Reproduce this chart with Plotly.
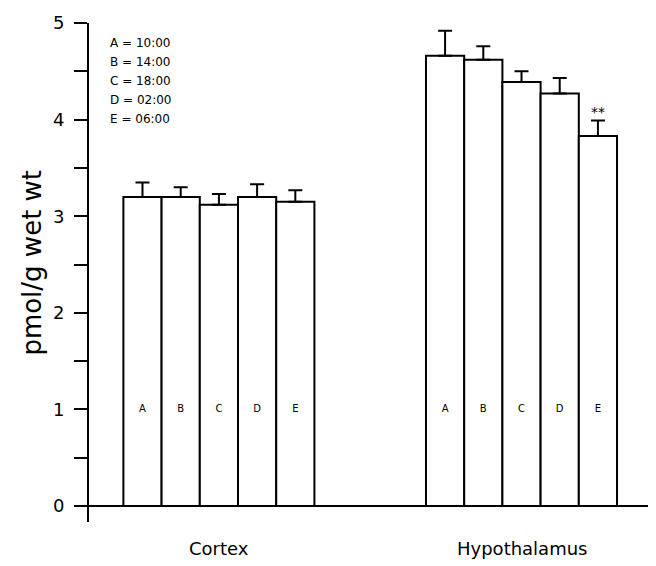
import plotly.graph_objects as go

# ---- data ----
groups = ["Cortex", "Hypothalamus"]
letters = ["A", "B", "C", "D", "E"]
times = ["10:00", "14:00", "18:00", "02:00", "06:00"]
cortex_vals = [3.20, 3.20, 3.12, 3.20, 3.15]
cortex_err = [0.15, 0.10, 0.11, 0.13, 0.12]
hypo_vals = [4.66, 4.62, 4.39, 4.27, 3.83]
hypo_err = [0.26, 0.14, 0.11, 0.16, 0.16]
signif = ["", "", "", "", "**"]
ytick_vals = [0, 0.5, 1, 1.5, 2, 2.5, 3, 3.5, 4, 4.5, 5]
ytick_text = ["0", "", "1", "", "2", "", "3", "", "4", "", "5"]

# ---- layout helpers ----
group_centers = [1.95, 9.87]
offsets = [-2, -1, 0, 1, 2]
FONT = "DejaVu Sans"

fig = go.Figure()
all_vals = [cortex_vals, hypo_vals]
all_errs = [cortex_err, hypo_err]
for gi, g in enumerate(groups):
    xs = [group_centers[gi] + o for o in offsets]
    fig.add_trace(go.Bar(
        x=xs, y=all_vals[gi], width=1.0,
        marker=dict(color="white", line=dict(color="black", width=2)),
        error_y=dict(type="data", symmetric=False, array=all_errs[gi],
                     arrayminus=[0] * len(xs), color="black",
                     thickness=2, width=7),
        showlegend=False, hoverinfo="skip",
    ))
    # letters inside bars at y = 1
    fig.add_trace(go.Scatter(
        x=xs, y=[1] * len(xs), mode="text", text=letters,
        textfont=dict(family=FONT, size=10, color="black"),
        showlegend=False, hoverinfo="skip",
    ))
    fig.add_annotation(x=group_centers[gi], y=-0.0527, xref="x", yref="paper",
                       text=g, showarrow=False, yanchor="middle",
                       font=dict(family=FONT, size=18, color="black"))

# significance marks
hx = [group_centers[1] + o for o in offsets]
for i, s in enumerate(signif):
    if s:
        fig.add_annotation(x=hx[i], y=hypo_vals[i] + hypo_err[i], xref="x", yref="y",
                           text=s, showarrow=False, yanchor="middle", yshift=9,
                           font=dict(family=FONT, size=14, color="black"))

# legend text block
for i, (l, t) in enumerate(zip(letters, times)):
    fig.add_annotation(x=-0.95, y=4.79 - 0.197 * i, xref="x", yref="y",
                       text=f"{l} = {t}", showarrow=False, xanchor="left",
                       font=dict(family=FONT, size=12, color="black"))

# y-axis title
fig.add_annotation(x=-0.1005, y=2.52, xref="paper", yref="y",
                   text="pmol/g wet wt", textangle=-90, showarrow=False,
                   xanchor="center", yanchor="middle",
                   font=dict(family=FONT, size=26, color="black"))

fig.update_layout(
    width=648, height=558,
    margin=dict(l=81, r=0, t=15, b=44, autoexpand=False),
    plot_bgcolor="white", paper_bgcolor="white",
    barmode="overlay",
    xaxis=dict(visible=False, range=[-1.45, 13.39], fixedrange=True,
               automargin=False),
    yaxis=dict(range=[-0.165, 5.0], tickvals=ytick_vals, ticktext=ytick_text,
               automargin=False,
               ticks="outside", ticklen=13, tickwidth=2, tickcolor="black",
               showline=True, linecolor="black", linewidth=2,
               showgrid=False, zeroline=True, zerolinecolor="black",
               zerolinewidth=2, ticklabelstandoff=6,
               tickfont=dict(family=FONT, size=18, color="black")),
)

fig.write_html("out.html")
